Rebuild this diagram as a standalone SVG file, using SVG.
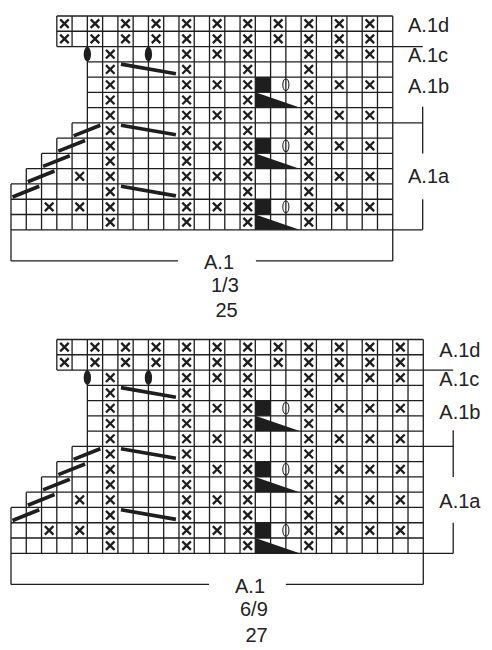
<svg xmlns="http://www.w3.org/2000/svg" width="492" height="650" viewBox="0 0 492 650">
<style>
.g{fill:none;stroke:#1e1e1e;stroke-width:0.085}
.x{fill:none;stroke:#1e1e1e;stroke-width:0.15}
.k{fill:none;stroke:#1e1e1e;stroke-width:0.24}
.o{fill:none;stroke:#1e1e1e;stroke-width:0.07}
.f{fill:#1e1e1e;stroke:none}
.t{font-family:"Liberation Sans",Arial,sans-serif;font-size:20px;fill:#222}
</style>
<defs>
<path id="x" class="x" d="M0.22,0.22L0.78,0.78M0.78,0.22L0.22,0.78"/>
<g id="colTop"><use href="#x" y="0"/><use href="#x" y="1"/></g>
<g id="colEven"><use href="#x" y="2"/><use href="#x" y="4"/><use href="#x" y="6"/><use href="#x" y="8"/><use href="#x" y="10"/><use href="#x" y="12"/></g>
<g id="colFull"><use href="#colEven"/><use href="#x" y="3"/><use href="#x" y="5"/><use href="#x" y="7"/><use href="#x" y="9"/><use href="#x" y="11"/><use href="#x" y="13"/></g>
<g id="common">
<use href="#colTop" x="3"/><use href="#colTop" x="5"/><use href="#colTop" x="7"/><use href="#colTop" x="9"/><use href="#colTop" x="11"/><use href="#colTop" x="13"/><use href="#colTop" x="15"/><use href="#colTop" x="17"/><use href="#colTop" x="19"/><use href="#colTop" x="21"/><use href="#colTop" x="23"/>
<use href="#colFull" x="6"/><use href="#colFull" x="11"/><use href="#colFull" x="15"/><use href="#colFull" x="19"/>
<use href="#colEven" x="13"/><use href="#colEven" x="21"/><use href="#colEven" x="23"/>
<use href="#x" x="4" y="10"/><use href="#x" x="2" y="12"/><use href="#x" x="4" y="12"/>
<ellipse class="f" cx="5" cy="2.5" rx="0.24" ry="0.48"/>
<ellipse class="f" cx="9" cy="2.5" rx="0.24" ry="0.48"/>
<rect class="f" x="16" y="4" width="1" height="1"/>
<rect class="f" x="16" y="8" width="1" height="1"/>
<rect class="f" x="16" y="12" width="1" height="1"/>
<polygon class="f" points="16,5 18.9,6 16,6"/>
<polygon class="f" points="16,9 18.9,10 16,10"/>
<polygon class="f" points="16,13 18.9,14 16,14"/>
<ellipse class="o" cx="18" cy="4.5" rx="0.2" ry="0.38"/>
<ellipse class="o" cx="18" cy="8.5" rx="0.2" ry="0.38"/>
<ellipse class="o" cx="18" cy="12.5" rx="0.2" ry="0.38"/>
<path class="k" d="M7.2,3.15L10.8,3.78M7.2,7.15L10.8,7.78M7.2,11.15L10.8,11.78"/>
<path class="k" d="M4.1,7.85L5.85,7.15M3.1,8.85L4.85,8.15M2.1,9.85L3.85,9.15M1.1,10.85L2.85,10.15M0.1,11.85L1.85,11.15"/>
</g>
</defs>

<g id="chart-a1-size-1-3" transform="translate(11,16) scale(15.27)">
<path class="g" d="M3,0H25M3,1H25M3,2H26.96M5,3H25M5,4H25M5,5H25M5,6H25M4,7H26.96M3,8H25M2,9H25M1,10H25M0,11H25M0,12H25M0,13H25M0,14H26.96"/>
<path class="g" d="M0,11V16.04M1,10V14M2,9V14M3,0V2M3,8V14M4,0V2M4,7V14M5,0V14M6,0V14M7,0V14M8,0V14M9,0V14M10,0V14M11,0V14M12,0V14M13,0V14M14,0V14M15,0V14M16,0V14M17,0V14M18,0V14M19,0V14M20,0V14M21,0V14M22,0V14M23,0V14M24,0V14M25,0V16.04"/>
<path class="g" d="M26.96,5.94V9M26.96,12V14M0,16.04H10.94M16.04,16.04H25"/>
<use href="#common"/>
</g>

<g id="chart-a1-size-6-9" transform="translate(11,339.5) scale(15.27)">
<path class="g" d="M3,0H27M3,1H27M3,2H28.96M5,3H27M5,4H27M5,5H27M5,6H27M4,7H28.96M3,8H27M2,9H27M1,10H27M0,11H27M0,12H27M0,13H27M0,14H28.96"/>
<path class="g" d="M0,11V16.04M1,10V14M2,9V14M3,0V2M3,8V14M4,0V2M4,7V14M5,0V14M6,0V14M7,0V14M8,0V14M9,0V14M10,0V14M11,0V14M12,0V14M13,0V14M14,0V14M15,0V14M16,0V14M17,0V14M18,0V14M19,0V14M20,0V14M21,0V14M22,0V14M23,0V14M24,0V14M25,0V14M26,0V14M27,0V16.04"/>
<path class="g" d="M28.96,5.94V9M28.96,12V14M0,16.04H12.97M18,16.04H27"/>
<use href="#common"/>
<use href="#colTop" x="25"/><use href="#colEven" x="25"/>
</g>

<g id="labels-1-3">
<text class="t" x="408" y="31.7">A.1d</text>
<text class="t" x="408" y="61.7">A.1c</text>
<text class="t" x="408" y="92.7">A.1b</text>
<text class="t" x="408" y="183.3">A.1a</text>
<text class="t" x="204" y="269">A.1</text>
<text class="t" x="211" y="291.7">1/3</text>
<text class="t" x="215.5" y="316.7">25</text>
</g>
<g id="labels-6-9">
<text class="t" x="439.3" y="356.7">A.1d</text>
<text class="t" x="439.3" y="386">A.1c</text>
<text class="t" x="439.3" y="419.3">A.1b</text>
<text class="t" x="439.3" y="508.3">A.1a</text>
<text class="t" x="235" y="593">A.1</text>
<text class="t" x="240" y="616">6/9</text>
<text class="t" x="245.5" y="641.7">27</text>
</g>
</svg>
